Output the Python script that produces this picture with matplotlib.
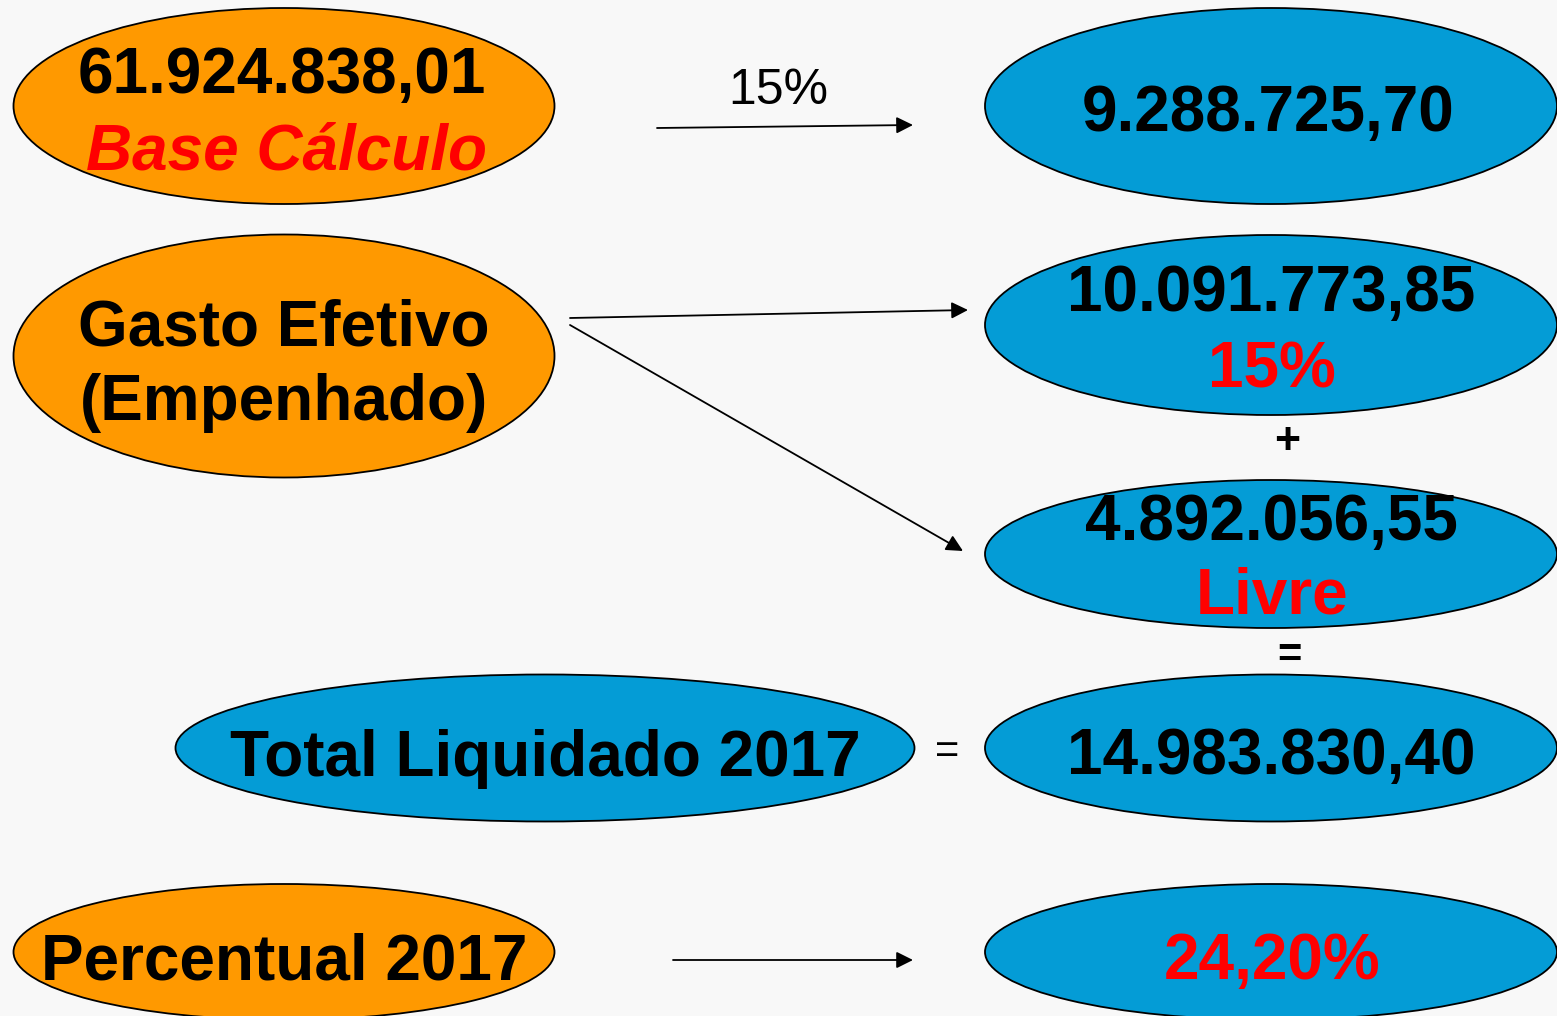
import matplotlib.pyplot as plt
from matplotlib.patches import Ellipse

# node labels (values from the diagram)
base_valor = "61.924.838,01"
base_rotulo = "Base Cálculo"
quinze_valor = "9.288.725,70"
gasto_rotulo = ["Gasto Efetivo", "(Empenhado)"]
gasto_15_valor = "10.091.773,85"
gasto_15_rotulo = "15%"
livre_valor = "4.892.056,55"
livre_rotulo = "Livre"
total_rotulo = "Total Liquidado 2017"
total_valor = "14.983.830,40"
percentual_rotulo = "Percentual 2017"
percentual_valor = "24,20%"
seta_rotulo = "15%"

ORANGE = "#ff9900"
BLUE = "#049cd6"
RED = "#ff0000"

W, H = 1557, 1016
fig = plt.figure(figsize=(W / 100, H / 100), dpi=100)
fig.patch.set_facecolor("#f8f8f8")
ax = fig.add_axes([0, 0, 1, 1])
ax.set_xlim(0, W)
ax.set_ylim(H, 0)
ax.axis("off")
ax.set_facecolor("#f8f8f8")

plt.rcParams['font.family'] = ['Liberation Sans', 'DejaVu Sans']


def node(cx, cy, w, h, color):
    ax.add_patch(Ellipse((cx, cy), w, h, facecolor=color, edgecolor="black", lw=1.3))


def txt(x, y, s, color="black", size=46, style="normal", weight="bold", va="baseline"):
    ax.text(x, y, s, ha="center", va=va, fontsize=size, color=color,
            fontweight=weight, fontstyle=style)


def arrow(x0, y0, x1, y1):
    ax.annotate("", xy=(x1, y1), xytext=(x0, y0),
                arrowprops=dict(arrowstyle="-|>", color="black", lw=1.3,
                                mutation_scale=25, shrinkA=0, shrinkB=0))


# left column
node(284, 106, 541, 196, ORANGE)
node(284, 356, 541, 243, ORANGE)
node(284, 952, 541, 136, ORANGE)
node(545, 748, 739, 147, BLUE)

# right column
node(1271, 106, 572, 196, BLUE)
node(1271, 325, 572, 180, BLUE)
node(1271, 554, 572, 148, BLUE)
node(1271, 748, 572, 147, BLUE)
node(1271, 952, 572, 136, BLUE)

txt(282, 93, base_valor)
txt(287, 170, base_rotulo, color=RED, style="italic")
txt(1268, 131, quinze_valor)
txt(284, 345, gasto_rotulo[0])
txt(284, 420, gasto_rotulo[1])
txt(1271, 311, gasto_15_valor)
txt(1272, 388, gasto_15_rotulo, color=RED)
txt(1271, 540, livre_valor)
txt(1272, 614, livre_rotulo, color=RED)
txt(545, 776, total_rotulo)
txt(1271, 774, total_valor)
txt(284, 980, percentual_rotulo)
txt(1272, 979, percentual_valor, color=RED)

txt(778, 104, seta_rotulo, size=36, weight="normal")
txt(1287, 443, "+", size=32, weight="bold", va="center")
txt(1289, 656, "=", size=30, weight="bold", va="center")
txt(947, 752, "=", size=30, weight="normal", va="center")

arrow(657, 128, 913, 125)
arrow(570, 318, 968, 310)
arrow(570, 325, 963, 551)
arrow(673, 960, 913, 960)

fig.savefig("out.png", dpi=100, facecolor=fig.get_facecolor())
